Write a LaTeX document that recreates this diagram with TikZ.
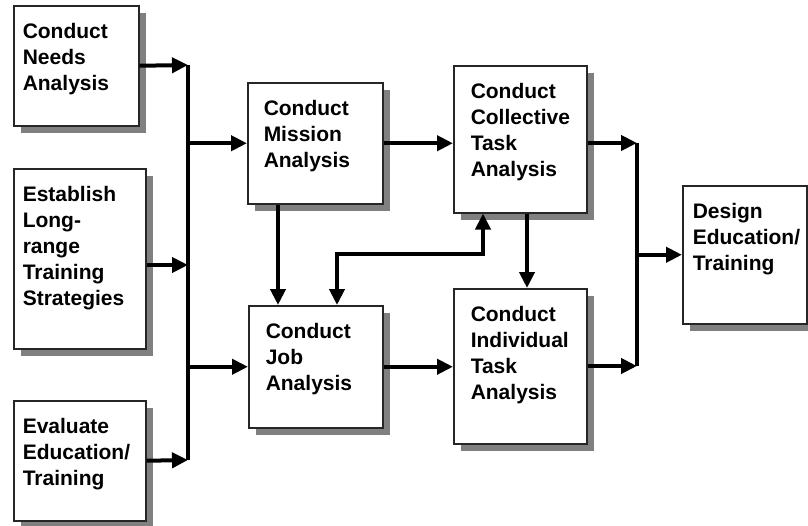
\documentclass[tikz,border=0pt]{standalone}
\usepackage{fontspec}
\setmainfont{Liberation Sans}
\usetikzlibrary{arrows.meta, positioning, calc, shadows}

\begin{document}
\begin{tikzpicture}[
        x=1pt, y=-1pt,
        box/.style={draw=black!85, line width=1.5pt, fill=white, rectangle, anchor=north west,
            align=left, inner ysep=0pt, text height=33pt,
            font=\fontsize{21}{26}\selectfont\bfseries,
            drop shadow={shadow xshift=7pt, shadow yshift=-7pt, fill=black!50, opacity=1}},
        arrow/.style={line width=4pt, -{Triangle[length=16pt, width=15pt]}},
        twoway/.style={line width=4pt, {Triangle[length=16pt, width=15pt]}-{Triangle[length=16pt, width=15pt]}},
        bus/.style={line width=4pt}
    ]
        \useasboundingbox (0,0) rectangle (808,525);

        % Left column: inputs
        \node[box, text width=107pt, inner xsep=9pt, text depth=87pt] (needs) at (13,5) {Conduct\\Needs\\Analysis};
        \node[box, text width=114pt, inner xsep=9pt, text depth=147pt] (strategies) at (13,168) {Establish\\Long-\\range\\Training\\Strategies};
        \node[box, text width=114pt, inner xsep=9pt, text depth=87pt] (evaluate) at (13,400) {Evaluate\\Education/\\Training};

        % Middle: mission and job
        \node[box, text width=103pt, inner xsep=16pt, text depth=88pt] (mission) at (247,82) {Conduct\\Mission\\Analysis};
        \node[box, text width=100pt, inner xsep=17pt, text depth=89pt] (job) at (248,305) {Conduct\\Job\\Analysis};

        % Task analyses
        \node[box, text width=99pt, inner xsep=17pt, text depth=114pt] (collective) at (453,65) {Conduct\\Collective\\Task\\Analysis};
        \node[box, text width=99pt, inner xsep=17pt, text depth=122pt] (individual) at (453,288) {Conduct\\Individual\\Task\\Analysis};

        % Output
        \node[box, text width=104pt, inner xsep=10pt, text depth=105pt] (design) at (682,185) {Design\\Education/\\Training};

        % Left bus
        \coordinate (lbtop) at (188,65);
        \coordinate (lbmid) at (188,265);
        \coordinate (lbbot) at (188,460);
        \draw[bus] (lbtop) -- (lbbot);
        \draw[arrow] (needs.east) -- (lbtop);
        \draw[arrow] (strategies.east |- lbmid) -- (lbmid);
        \draw[arrow] (evaluate.east) -- (lbbot);
        \draw[arrow] (lbtop |- mission.west) -- (mission.west);
        \draw[arrow] (lbtop |- job.west) -- (job.west);

        % Middle connections
        \draw[arrow] (mission.east) -- (mission.east -| collective.west);
        \draw[arrow] (job.east) -- (job.east -| individual.west);
        \draw[arrow] ([xshift=31pt]mission.south west) -- ([xshift=31pt]mission.south west |- job.north);
        \coordinate (bend) at (337,254);
        \draw[twoway] ([xshift=30pt]collective.south west) |- (bend) -- (bend |- job.north);
        \draw[arrow] ([xshift=74pt]collective.south west) -- ([xshift=74pt]collective.south west |- individual.north);

        % Right bus
        \coordinate (rbtop) at (637,143);
        \coordinate (rbbot) at (637,366);
        \draw[bus] (rbtop) -- (rbbot);
        \draw[arrow] (collective.east |- rbtop) -- (rbtop);
        \draw[arrow] (individual.east |- rbbot) -- (rbbot);
        \draw[arrow] (rbtop |- design.west) -- (design.west);
    \end{tikzpicture}
\end{document}
